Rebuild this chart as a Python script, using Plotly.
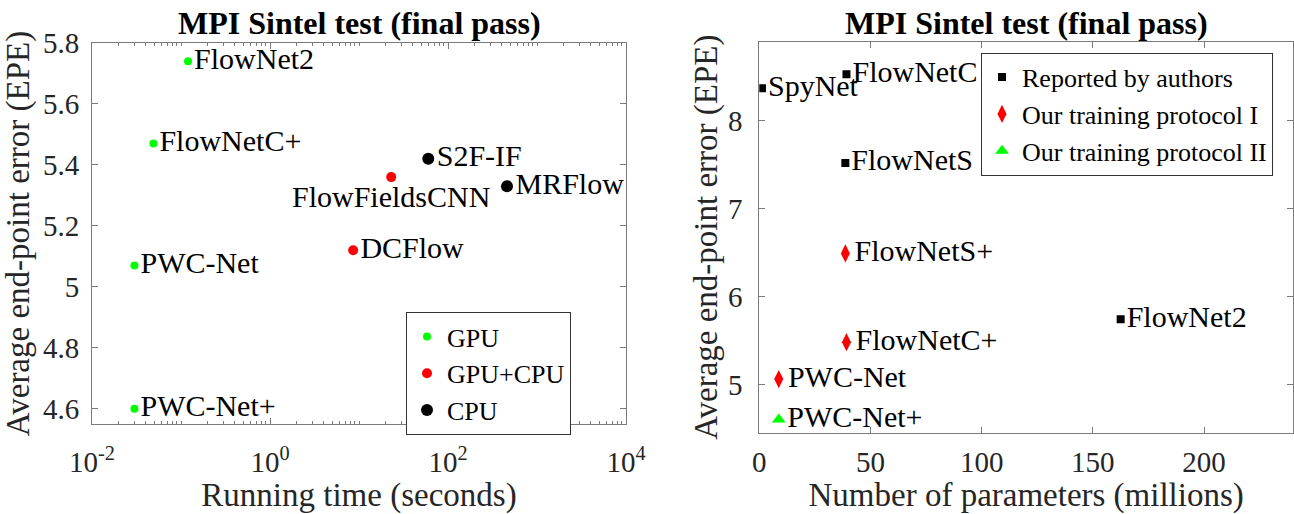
import plotly.graph_objects as go

# ---------------- Left panel: running time vs EPE ----------------
gpu_methods = ["FlowNet2", "FlowNetC+", "PWC-Net", "PWC-Net+"]
gpu_time = [0.12, 0.049, 0.03, 0.03]
gpu_epe = [5.74, 5.47, 5.07, 4.60]

gpucpu_methods = ["FlowFieldsCNN", "DCFlow"]
gpucpu_time = [23, 8.6]
gpucpu_epe = [5.36, 5.12]

cpu_methods = ["S2F-IF", "MRFlow"]
cpu_time = [60, 460]
cpu_epe = [5.42, 5.33]

left_xticks = [0.01, 1, 100, 10000]
left_xticklabels = ["10<sup>-2</sup>", "10<sup>0</sup>", "10<sup>2</sup>", "10<sup>4</sup>"]
left_yticks = [4.6, 4.8, 5.0, 5.2, 5.4, 5.6, 5.8]
left_yticklabels = ["4.6", "4.8", "5", "5.2", "5.4", "5.6", "5.8"]

# ---------------- Right panel: parameters vs EPE ----------------
rep_methods = ["SpyNet", "FlowNetC", "FlowNetS", "FlowNet2"]
rep_params = [1.2, 39.2, 38.7, 162.5]
rep_epe = [8.37, 8.53, 7.52, 5.74]

p1_methods = ["FlowNetS+", "FlowNetC+", "PWC-Net"]
p1_params = [38.7, 39.2, 8.75]
p1_epe = [6.49, 5.48, 5.06]

p2_methods = ["PWC-Net+"]
p2_params = [8.75]
p2_epe = [4.60]

right_xticks = [0, 50, 100, 150, 200]
right_yticks = [5, 6, 7, 8]

title_text = "MPI Sintel test (final pass)"

# ---------------- styling ----------------
FONT = "Liberation Serif"
AX = "#7a7a7a"
TXT = "#262626"
TICK_SIZE = 29
LABEL_SIZE = 30
AXTITLE_SIZE = 33
TITLE_SIZE = 32
LEG_SIZE = 26

special_pos = {"FlowFieldsCNN": "bottom center"}


def positions(names):
    return [special_pos.get(n, "middle right") for n in names]


fig = go.Figure()

# left panel traces
fig.add_trace(go.Scatter(
    x=gpu_time, y=gpu_epe, mode="markers+text", name="GPU",
    text=gpu_methods, textposition=positions(gpu_methods),
    marker=dict(color="#00ff00", size=8, symbol="circle"),
    textfont=dict(family=FONT, size=LABEL_SIZE, color="black"),
    xaxis="x", yaxis="y", legend="legend"))
fig.add_trace(go.Scatter(
    x=gpucpu_time, y=gpucpu_epe, mode="markers+text", name="GPU+CPU",
    text=gpucpu_methods, textposition=positions(gpucpu_methods),
    marker=dict(color="#ff0000", size=10, symbol="circle"),
    textfont=dict(family=FONT, size=LABEL_SIZE, color="black"),
    xaxis="x", yaxis="y", legend="legend"))
fig.add_trace(go.Scatter(
    x=cpu_time, y=cpu_epe, mode="markers+text", name="CPU",
    text=cpu_methods, textposition=positions(cpu_methods),
    marker=dict(color="#000000", size=12, symbol="circle"),
    textfont=dict(family=FONT, size=LABEL_SIZE, color="black"),
    xaxis="x", yaxis="y", legend="legend"))

# right panel traces
fig.add_trace(go.Scatter(
    x=rep_params, y=rep_epe, mode="markers+text", name="Reported by authors",
    text=rep_methods, textposition="middle right",
    marker=dict(color="#000000", size=8, symbol="square"),
    textfont=dict(family=FONT, size=LABEL_SIZE, color="black"),
    xaxis="x2", yaxis="y2", legend="legend2"))
fig.add_trace(go.Scatter(
    x=p1_params, y=p1_epe, mode="markers+text", name="Our training protocol I",
    text=p1_methods, textposition="middle right",
    marker=dict(color="#ff0000", size=13, symbol="diamond-tall"),
    textfont=dict(family=FONT, size=LABEL_SIZE, color="black"),
    xaxis="x2", yaxis="y2", legend="legend2"))
fig.add_trace(go.Scatter(
    x=p2_params, y=p2_epe, mode="markers+text", name="Our training protocol II",
    text=p2_methods, textposition="middle right",
    marker=dict(color="#00ff00", size=12, symbol="triangle-up"),
    textfont=dict(family=FONT, size=LABEL_SIZE, color="black"),
    xaxis="x2", yaxis="y2", legend="legend2"))

axis_common = dict(
    showline=True, linecolor=AX, linewidth=1, mirror="allticks",
    ticks="inside", tickcolor=AX, ticklen=6, showgrid=False, zeroline=False,
    automargin=False,
    tickfont=dict(family=FONT, size=TICK_SIZE, color=TXT),
)

L_X = [92 / 1294, 626 / 1294]
L_Y = [(514 - 424) / 514, (514 - 43) / 514]
R_X = [759.3 / 1294, 1293 / 1294]
R_Y = [(514 - 432.7) / 514, (514 - 41.7) / 514]

fig.update_layout(
    width=1294, height=514,
    margin=dict(l=0, r=0, t=0, b=0, autoexpand=False),
    paper_bgcolor="white", plot_bgcolor="white",
    font=dict(family=FONT, color=TXT),
    xaxis=dict(
        **axis_common, type="log", domain=L_X, range=[-2, 4], anchor="y",
        tickmode="array", tickvals=left_xticks, ticktext=left_xticklabels,
        minor=dict(ticks="inside", ticklen=3, tickcolor=AX, dtick="D1", showgrid=False),
        ticklabelstandoff=12,
        title=dict(text="Running time (seconds)", font=dict(family=FONT, size=AXTITLE_SIZE, color=TXT), standoff=8),
    ),
    yaxis=dict(
        **axis_common, domain=L_Y, range=[4.55, 5.8], anchor="x",
        tickmode="array", tickvals=left_yticks, ticktext=left_yticklabels,
        ticklabelstandoff=6,
        title=dict(text="Average end-point error (EPE)", font=dict(family=FONT, size=AXTITLE_SIZE, color=TXT), standoff=6),
    ),
    xaxis2=dict(
        **axis_common, domain=R_X, range=[0, 240], anchor="y2",
        tickmode="array", tickvals=right_xticks,
        ticklabelstandoff=3,
        title=dict(text="Number of parameters (millions)", font=dict(family=FONT, size=AXTITLE_SIZE, color=TXT), standoff=13),
    ),
    yaxis2=dict(
        **axis_common, domain=R_Y, range=[4.45, 8.9], anchor="x2",
        tickmode="array", tickvals=right_yticks,
        ticklabelstandoff=10,
        title=dict(text="Average end-point error (EPE)", font=dict(family=FONT, size=AXTITLE_SIZE, color=TXT), standoff=0),
    ),
    legend=dict(
        x=406 / 1294, y=(514 - 312) / 514, xanchor="left", yanchor="top",
        bgcolor="white", bordercolor="#333333", borderwidth=1,
        font=dict(family=FONT, size=LEG_SIZE, color="black"),
        itemsizing="trace",
    ),
    legend2=dict(
        x=981 / 1294, y=(514 - 52.7) / 514, xanchor="left", yanchor="top",
        bgcolor="white", bordercolor="#333333", borderwidth=1,
        font=dict(family=FONT, size=LEG_SIZE, color="black"),
        itemsizing="trace",
    ),
    showlegend=True,
)

for dom in (L_X, R_X):
    fig.add_annotation(
        text="<b>" + title_text + "</b>", xref="paper", yref="paper",
        x=(dom[0] + dom[1]) / 2, y=(514 - 23) / 514, xanchor="center", yanchor="middle",
        showarrow=False, font=dict(family=FONT, size=TITLE_SIZE, color="black"))

fig.write_html("out.html")
